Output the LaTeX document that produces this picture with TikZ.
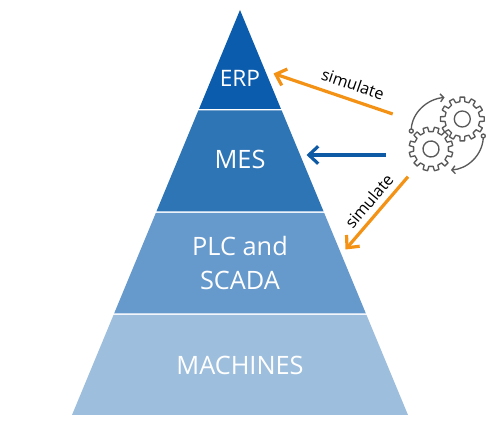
\documentclass[tikz,border=0pt]{standalone}
\usepackage{xcolor}
\usepackage{fontspec}
\setmainfont{Open Sans}
\usetikzlibrary{arrows.meta, positioning, calc}
\definecolor{layer1}{HTML}{0B5CAD}
\definecolor{layer2}{HTML}{2E75B6}
\definecolor{layer3}{HTML}{6699CC}
\definecolor{layer4}{HTML}{9DBEDD}
\definecolor{simorange}{HTML}{F39214}
\definecolor{simblue}{HTML}{0F5AA5}
\definecolor{geargray}{HTML}{595959}
\tikzset{
  layerlabel/.style={text=white, font=\fontsize{19}{25}\selectfont, align=center, inner sep=0pt},
  simlabel/.style={font=\fontsize{12.2}{14}\selectfont, inner sep=0pt},
  simarrow/.style={line width=2.4pt, -{Straight Barb[length=7pt,width=13pt,line width=2.4pt]}},
  gearline/.style={geargray, line width=1pt, line join=round}
}
\begin{document}
\begin{tikzpicture}[x=0.75pt, y=-0.75pt]
  \useasboundingbox (0,0) rectangle (500,423);
  \fill[layer1] (240,10) -- (281,109) -- (199,109) -- cycle;
  \fill[layer2] (198.3,110.5) -- (281.7,110.5) -- (323.6,211.5) -- (156.4,211.5) -- cycle;
  \fill[layer3] (155.8,213) -- (324.2,213) -- (365.9,313.5) -- (114.1,313.5) -- cycle;
  \fill[layer4] (113.5,315) -- (366.5,315) -- (408,415) -- (72,415) -- cycle;

  \node[layerlabel, font=\fontsize{17}{25}\selectfont] (erp) at (240,78) {ERP};
  \node[layerlabel] (mes) at (240,159) {MES};
  \node[layerlabel] (plc) at (240,263) {PLC and\\SCADA};
  \node[layerlabel] (machines) at (240,365) {MACHINES};

  \coordinate (simerpstart) at (392.7,114);
  \coordinate (simerpend) at (273.5,73.5);
  \coordinate (messtart) at (385.5,155);
  \coordinate (mesend) at (306.5,155);
  \coordinate (simplcstart) at (408,176.7);
  \coordinate (simplcend) at (345.5,249.5);
  \draw[simarrow, simorange] (simerpstart) -- (simerpend);
  \draw[simarrow, simblue] (messtart) -- (mesend);
  \draw[simarrow, simorange] (simplcstart) -- (simplcend);

  \node[simlabel, rotate=-19] (simerp) at (353,84) {simulate};
  \node[simlabel, rotate=50] (simplc) at (369,201) {simulate};

  \foreach \gx/\gy/\gr in {462.3/119/0, 431/149/15} {
    \begin{scope}[shift={(\gx,\gy)}, rotate=\gr]
      \draw[gearline] (-8:17.5) \foreach \a in {0,30,...,330} {
        -- (\a-8:17.5) -- (\a-6:22) -- (\a+6:22) -- (\a+8:17.5) -- (\a+22:17.5)
      } -- cycle;
      \draw[gearline] (0,0) circle (8);
    \end{scope}
  }

  \coordinate (loopastart) at (411.3,131);
  \coordinate (loopaend) at (444.5,97.5);
  \coordinate (loopbstart) at (483.3,136);
  \coordinate (loopbend) at (451,170);
  \draw[gearline, -{Straight Barb[length=2.5pt,width=6pt]}] (loopastart) ++(0,-2) .. controls (412,113) and (427,99) .. (loopaend);
  \draw[gearline, -{Straight Barb[length=2.5pt,width=6pt]}] (loopbstart) ++(0,2) .. controls (482,156) and (467,169) .. (loopbend);
  \draw[gearline] (loopastart) circle (2);
  \draw[gearline] (loopbstart) circle (2);
\end{tikzpicture}
\end{document}
